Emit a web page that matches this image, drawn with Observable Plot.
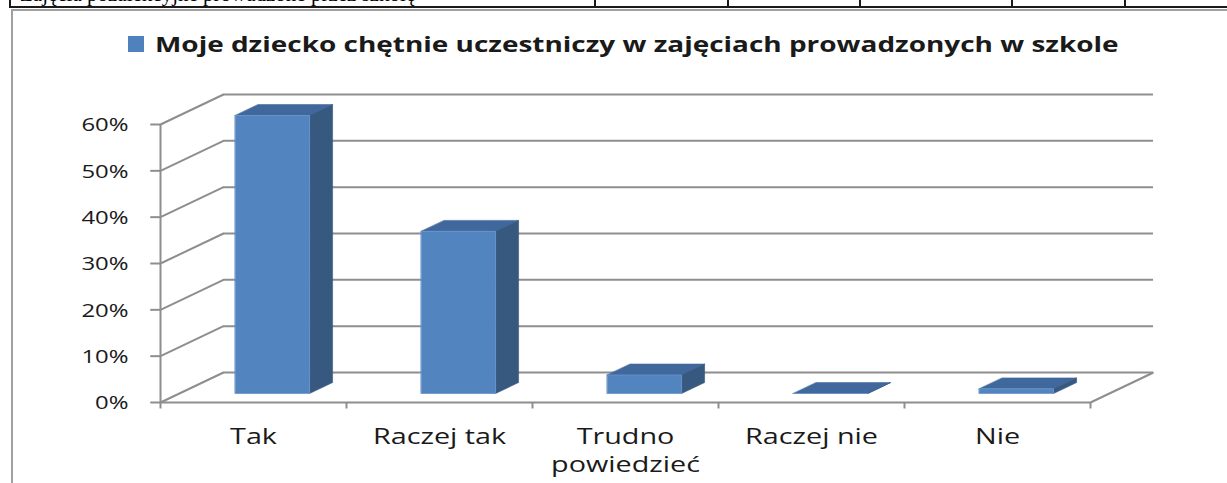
<!DOCTYPE html>
<html><head><meta charset="utf-8">
<script src="https://cdn.jsdelivr.net/npm/d3@7"></script>
<script src="https://cdn.jsdelivr.net/npm/@observablehq/plot@0.6"></script>
<style>
html,body{margin:0;padding:0;background:#fff;}
body{width:1227px;height:483px;overflow:hidden;position:relative;font-family:"Open Sans",sans-serif;}
.tline{position:absolute;background:#1a1a1a;}
#toptext{position:absolute;left:20px;top:-18px;font-family:"Liberation Serif",serif;font-size:21px;color:#000;white-space:nowrap;height:25px;}
#clip{position:absolute;left:0;top:0;width:1227px;height:7px;overflow:hidden;}
#box{position:absolute;left:11px;top:9px;width:1220px;height:480px;border-left:2px solid #a0a0a0;border-top:2px solid #a0a0a0;}
#legend{position:absolute;left:128px;top:30px;white-space:nowrap;}
#sw{position:absolute;left:0;top:6px;width:16px;height:16px;background:#4F81BD;}
#lt{position:absolute;left:27px;top:0;font-weight:700;font-size:22px;line-height:26px;color:#1a1a1a;transform:scaleX(1.27);transform-origin:0 0;}
#chart{position:absolute;left:0;top:0;}
</style></head><body>
<div id="clip"><div id="toptext">Zajęcia pozalekcyjne prowadzone przez szkołę</div></div>
<div id="box"></div>
<div id="chart"></div>
<div id="legend"><div id="sw"></div><div id="lt"></div></div>
<script>
// ---- data ----
const seriesName = "Moje dziecko chętnie uczestniczy w zajęciach prowadzonych w szkole";
const categories = ["Tak", "Raczej tak", "Trudno\npowiedzieć", "Raczej nie", "Nie"];
const values = [60, 35, 4, 0, 1];
const yTicks = [0, 10, 20, 30, 40, 50, 60];
const yTickLabels = ["0%", "10%", "20%", "30%", "40%", "50%", "60%"];

// table lines at very top (page decoration)
const tableCols = [10, 595, 728, 860, 1012, 1125];

// ---- page decoration ----
for (const c of tableCols) {
  const d = document.createElement("div");
  d.className = "tline";
  Object.assign(d.style, {left: (c - 1) + "px", top: "0px", width: "2px", height: "8px"});
  document.body.appendChild(d);
}
{
  const d = document.createElement("div");
  d.className = "tline";
  Object.assign(d.style, {left: "9px", top: "6px", width: "1218px", height: "2px"});
  document.body.appendChild(d);
}
document.getElementById("lt").textContent = seriesName;

// ---- 3D geometry (in data units) ----
const DX = 0.3387;   // full floor depth along x (category units)
const DY = 6.475;    // full floor depth along y (percent units)
const HW = 0.2;      // half bar width
const D0 = 0.3, D1 = 0.665; // bar front/back depth fraction
const P = (c, v, d) => ({x: c + d * DX, y: v + d * DY});

const faces = {front: [], side: [], top: []};
categories.forEach((cat, i) => {
  const c = i + 0.5, v = values[i];
  const f = [P(c - HW, 0, D0), P(c + HW, 0, D0), P(c + HW, v, D0), P(c - HW, v, D0)];
  const s = [P(c + HW, 0, D0), P(c + HW, 0, D1), P(c + HW, v, D1), P(c + HW, v, D0)];
  const t = [P(c - HW, v, D0), P(c + HW, v, D0), P(c + HW, v, D1), P(c - HW, v, D1)];
  f.forEach(p => faces.front.push({...p, id: cat}));
  s.forEach(p => faces.side.push({...p, id: cat}));
  t.forEach(p => faces.top.push({...p, id: cat}));
});

const grid = "#8e8e8e";
const n = categories.length;
const yMax = yTicks[yTicks.length - 1];

const plot = Plot.plot({
  width: 1227,
  height: 483,
  marginLeft: 160,
  marginRight: 74,
  marginTop: 94,
  marginBottom: 81,
  x: {type: "linear", domain: [0, n + DX], axis: null},
  y: {type: "linear", domain: [0, yMax + DY], axis: null},
  style: {background: "transparent", overflow: "visible"},
  marks: [
    // back wall gridlines
    Plot.ruleY(yTicks, {y: d => d + DY, x1: DX, x2: n + DX, stroke: grid, strokeWidth: 2}),
    // left wall diagonals
    Plot.link(yTicks, {x1: 0, y1: d => d, x2: DX, y2: d => d + DY, stroke: grid, strokeWidth: 2}),
    // floor front edge and right edge
    Plot.link([0], {x1: 0, y1: 0, x2: n, y2: 0, stroke: grid, strokeWidth: 2}),
    Plot.link([0], {x1: n, y1: 0, x2: n + DX, y2: DY, stroke: grid, strokeWidth: 2}),
    // front vertical axis
    Plot.ruleX([0], {y1: 0, y2: yMax, stroke: grid, strokeWidth: 2}),
    // y tick marks
    Plot.link(yTicks, {x1: -0.055, x2: 0, y1: d => d, y2: d => d, stroke: grid, strokeWidth: 2}),
    // category tick marks
    Plot.ruleX(d3.range(n + 1), {y1: 0, y2: -1.4, stroke: grid, strokeWidth: 2}),
    // bars
    Plot.line(faces.top, {x: "x", y: "y", z: "id", fill: "#41689C", stroke: "#41689C", strokeWidth: 0.6, curve: "linear-closed"}),
    Plot.line(faces.side, {x: "x", y: "y", z: "id", fill: "#37587F", stroke: "#37587F", strokeWidth: 0.6, curve: "linear-closed"}),
    Plot.line(faces.front, {x: "x", y: "y", z: "id", fill: "#5284BF", stroke: "#6A96CC", strokeWidth: 0.8, curve: "linear-closed"}),
    // y labels
    Plot.text(yTicks, {x: 0, y: d => d, text: (d, i) => yTickLabels[i], textAnchor: "end", dx: -32, dy: 1, fontSize: 18, fill: "#1a1a1a", fontFamily: "Open Sans"}),
    // category labels
    Plot.text(categories, {x: (d, i) => i + 0.5, y: 0, text: d => d, lineAnchor: "top", dy: 21, fontSize: 21, lineHeight: 1.35, fill: "#1a1a1a", fontFamily: "Open Sans"})
  ]
});

// horizontal stretch of labels (the reference is horizontally stretched)
d3.select(plot).selectAll("text").each(function () {
  const t = this.textContent;
  const sx = /%$/.test(t) ? 1.33 : 1.37;
  const tr = this.getAttribute("transform") || "";
  this.setAttribute("transform", tr + ` scale(${sx},1)`);
});

document.getElementById("chart").appendChild(plot);
</script>
</body></html>
